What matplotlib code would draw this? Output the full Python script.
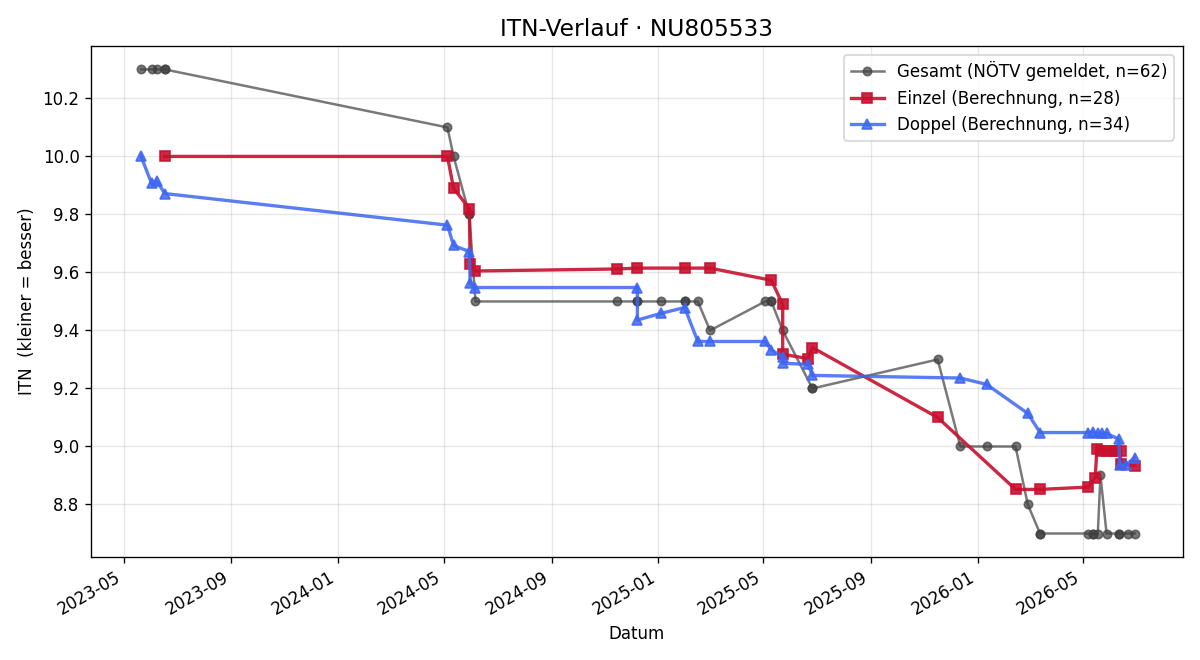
import matplotlib
matplotlib.use("Agg")
import matplotlib.pyplot as plt
import matplotlib.dates as mdates
import pandas as pd

GESAMT_DATES = [
    "2023-05-21", "2023-06-02", "2023-06-08", "2023-06-17", "2023-06-17",
    "2024-05-05", "2024-05-12", "2024-05-30", "2024-05-30", "2024-06-06",
    "2024-11-15", "2024-12-08", "2024-12-08", "2025-01-04", "2025-01-31",
    "2025-01-31", "2025-02-15", "2025-03-01", "2025-05-03", "2025-05-10",
    "2025-05-10", "2025-05-23", "2025-06-26", "2025-06-26", "2025-11-16",
    "2025-12-12", "2026-01-11", "2026-02-13", "2026-02-27", "2026-03-13",
    "2026-03-13", "2026-05-07", "2026-05-13", "2026-05-13", "2026-05-18",
    "2026-05-21", "2026-05-28", "2026-06-11", "2026-06-11", "2026-06-22",
    "2026-06-29",
]
GESAMT_ITN = [
    10.3, 10.3, 10.3, 10.3, 10.3,
    10.1, 10.0, 9.8, 9.8, 9.5,
    9.5, 9.5, 9.5, 9.5, 9.5,
    9.5, 9.5, 9.4, 9.5, 9.5,
    9.5, 9.4, 9.2, 9.2, 9.3,
    9.0, 9.0, 9.0, 8.8, 8.7,
    8.7, 8.7, 8.7, 8.7, 8.7,
    8.9, 8.7, 8.7, 8.7, 8.7,
    8.7,
]

EINZEL_DATES = [
    "2023-06-17", "2024-05-05", "2024-05-12", "2024-05-30", "2024-05-31",
    "2024-06-06", "2024-11-15", "2024-12-08", "2025-01-31", "2025-03-01",
    "2025-05-10", "2025-05-23", "2025-05-23", "2025-06-21", "2025-06-26",
    "2025-11-16", "2026-02-13", "2026-03-13", "2026-05-07", "2026-05-15",
    "2026-05-17", "2026-05-22", "2026-05-28", "2026-06-04", "2026-06-08",
    "2026-06-13", "2026-06-13", "2026-06-29",
]
EINZEL_ITN = [
    10.0, 10.0, 9.89, 9.82, 9.63,
    9.605, 9.612, 9.615, 9.615, 9.615,
    9.573, 9.49, 9.318, 9.303, 9.341,
    9.1, 8.852, 8.852, 8.86, 8.893,
    8.993, 8.986, 8.986, 8.983, 8.986,
    8.986, 8.94, 8.934,
]

DOPPEL_DATES = [
    "2023-05-21", "2023-06-02", "2023-06-08", "2023-06-17", "2024-05-05",
    "2024-05-12", "2024-05-30", "2024-05-31", "2024-06-06", "2024-12-08",
    "2024-12-08", "2025-01-04", "2025-01-31", "2025-02-15", "2025-03-01",
    "2025-05-03", "2025-05-10", "2025-05-23", "2025-05-23", "2025-06-21",
    "2025-06-26", "2025-12-12", "2026-01-11", "2026-02-27", "2026-03-13",
    "2026-05-07", "2026-05-12", "2026-05-18", "2026-05-23", "2026-05-28",
    "2026-06-11", "2026-06-12", "2026-06-19", "2026-06-29",
]
DOPPEL_ITN = [
    10.0, 9.907, 9.915, 9.872, 9.763,
    9.693, 9.672, 9.563, 9.548, 9.548,
    9.436, 9.459, 9.479, 9.362, 9.362,
    9.362, 9.333, 9.308, 9.287, 9.283,
    9.245, 9.236, 9.214, 9.114, 9.048,
    9.048, 9.05, 9.045, 9.045, 9.045,
    9.025, 8.935, 8.935, 8.962,
]

X_RANGE = ["2023-03-25", "2026-08-23"]


def plot_itn():
    g_dates = pd.to_datetime(GESAMT_DATES)
    e_dates = pd.to_datetime(EINZEL_DATES)
    d_dates = pd.to_datetime(DOPPEL_DATES)

    fig, ax = plt.subplots(figsize=(10, 5.5), dpi=120)
    ax.plot(g_dates, GESAMT_ITN, color="#404040", alpha=0.7, marker="o",
            markersize=5, lw=1.5, label="Gesamt (NÖTV gemeldet, n=62)")
    ax.plot(e_dates, EINZEL_ITN, color="#c8102e", alpha=0.9, marker="s",
            markersize=6, lw=2, label="Einzel (Berechnung, n=28)")
    ax.plot(d_dates, DOPPEL_ITN, color="#3d66f2", alpha=0.85, marker="^",
            markersize=6, lw=2, label="Doppel (Berechnung, n=34)")

    ax.set_title("ITN-Verlauf · NU805533", fontsize=14)
    ax.set_xlabel("Datum")
    ax.set_ylabel("ITN  (kleiner = besser)")
    ax.set_xlim(pd.to_datetime(X_RANGE[0]), pd.to_datetime(X_RANGE[1]))
    ax.xaxis.set_major_locator(mdates.MonthLocator(bymonth=[1, 5, 9]))
    ax.xaxis.set_major_formatter(mdates.DateFormatter("%Y-%m"))
    ax.grid(True, alpha=0.3)
    ax.legend(loc="upper right")
    fig.autofmt_xdate()
    fig.subplots_adjust(left=0.076, right=0.9856, top=0.930, bottom=0.1565)
    fig.savefig("out.png")


if __name__ == "__main__":
    plot_itn()
